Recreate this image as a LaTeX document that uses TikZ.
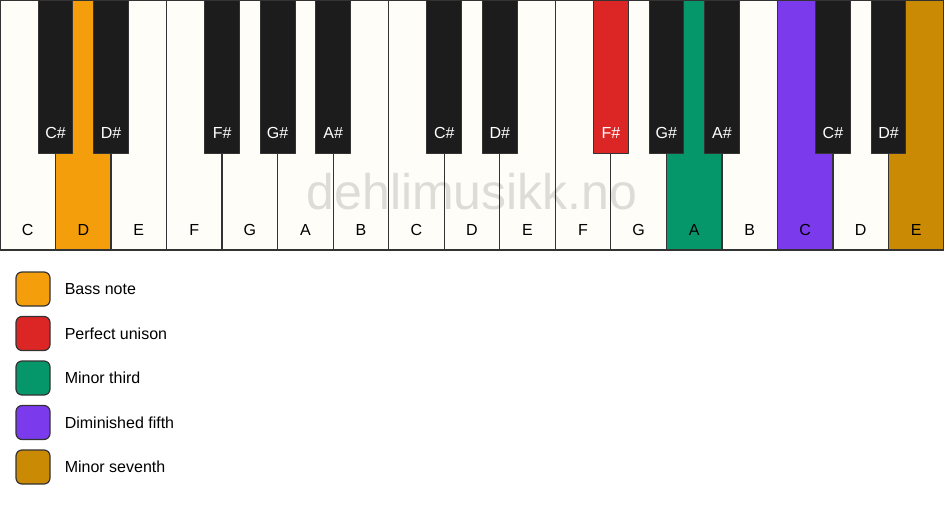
\documentclass[tikz,border=0pt]{standalone}
\usepackage{fontspec}
\setmainfont{Liberation Sans}
\definecolor{keywhite}{HTML}{FFFDF8}
\definecolor{keyblack}{HTML}{1C1C1C}
\definecolor{keyline}{HTML}{333333}
\definecolor{bass}{HTML}{F59E0B}
\definecolor{unison}{HTML}{DC2626}
\definecolor{third}{HTML}{059669}
\definecolor{fifth}{HTML}{7C3AED}
\definecolor{seventh}{HTML}{CA8A04}
\begin{document}
\begin{tikzpicture}[x=1pt,y=-1pt,line join=round,font=\fontsize{16}{19}\selectfont,
	wkey/.style={draw=keyline,line width=1.3pt,minimum width=55.53pt,minimum height=250pt,inner sep=0pt,outer sep=0pt},
	bkey/.style={draw=keyline,line width=1pt,minimum width=34.7pt,minimum height=153pt,inner sep=0pt,outer sep=0pt},
	legbox/.style={draw=keyline,line width=1.2pt,rounded corners=6pt,minimum size=34pt,inner sep=0pt}]
	\useasboundingbox (0,0) rectangle (944,506);
	% white keys
	\foreach \n/\c [count=\i from 0] in {C/keywhite,D/bass,E/keywhite,F/keywhite,G/keywhite,A/keywhite,B/keywhite,C/keywhite,D/keywhite,E/keywhite,F/keywhite,G/keywhite,A/third,B/keywhite,C/fifth,D/keywhite,E/seventh}{
		\node[wkey,fill=\c] (w\i) at ({\i*55.53+27.765},125) {};
		\node (wl\i) at ([yshift=20pt]w\i.south) {\n};
	}
	% watermark
	\node[text=black,text opacity=.13,font=\fontsize{50}{58}\selectfont] (mark) at (472,192) {dehlimusikk.no};
	% black keys
	\foreach \j/\n/\c in {0/C\#/keyblack,1/D\#/keyblack,3/F\#/keyblack,4/G\#/keyblack,5/A\#/keyblack,7/C\#/keyblack,8/D\#/keyblack,10/F\#/unison,11/G\#/keyblack,12/A\#/keyblack,14/C\#/keyblack,15/D\#/keyblack}{
		\node[bkey,fill=\c] (b\j) at (w\j.north east) [anchor=north] {};
		\node[text=white] (bl\j) at ([yshift=20pt]b\j.south) {\n};
	}
	% legend
	\foreach \c/\t [count=\k from 0] in {bass/Bass note,unison/Perfect unison,third/Minor third,fifth/Diminished fifth,seventh/Minor seventh}{
		\node[legbox,fill=\c] (g\k) at (33,{289+\k*44.5}) {};
		\node[anchor=west,inner sep=0pt] (gt\k) at ([xshift=14pt]g\k.east) {\t};
	}
\end{tikzpicture}
\end{document}
